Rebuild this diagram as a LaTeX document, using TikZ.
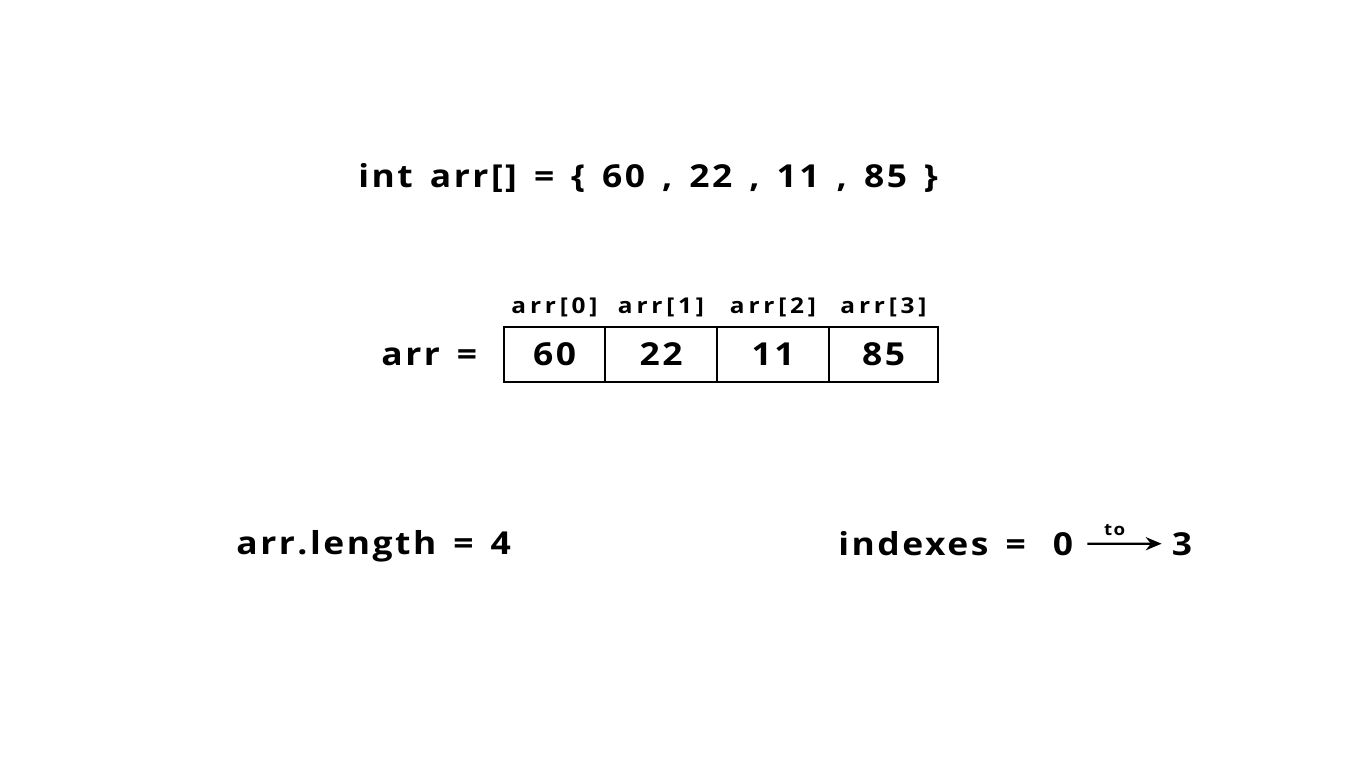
\documentclass[tikz,border=0pt]{standalone}
\usepackage{fontspec}
\setmainfont{Open Sans}[LetterSpace=8, WordSpace=1.45, FakeStretch=1.12]
\usetikzlibrary{positioning,arrows.meta}
\tikzstyle{big} = [inner sep=0pt, font=\fontsize{18}{21}\selectfont\bfseries]
\tikzstyle{small} = [inner sep=0pt, font=\fontsize{12.4}{15}\selectfont\bfseries\addfontfeatures{LetterSpace=17.5}]
\tikzstyle{tiny} = [inner sep=0pt, font=\fontsize{9.5}{11}\selectfont\bfseries]
\tikzstyle{cell} = [draw, line width=1.2pt, outer sep=0pt, minimum height=55*0.02cm, big]
\tikzstyle{line} = [draw, line width=1.2pt, -{Stealth[length=9pt,width=7.5pt]}]

\begin{document}
\begin{tikzpicture}[x=0.02cm, y=-0.02cm]
        \useasboundingbox (0,0) rectangle (1366,768);
        % declaration
        \node[big, anchor=base west] (decl) at (358,187) {int arr[] = \{ 60 , 22 , 11 , 85 \}};
        % the array cells
        \node[cell, minimum width=101*0.02cm] (c0) at (554.5,354.5) {60};
        \node[cell, minimum width=112*0.02cm, right=0pt of c0] (c1) {22};
        \node[cell, minimum width=112*0.02cm, right=0pt of c1] (c2) {11};
        \node[cell, minimum width=109*0.02cm, right=0pt of c2] (c3) {85};
        \node[big, anchor=base west] (arrlbl) at (381,365) {arr =};
        \node[small, above=10*0.02cm of c0] (idx0) {arr[0]};
        \node[small, above=10*0.02cm of c1] (idx1) {arr[1]};
        \node[small, above=10*0.02cm of c2] (idx2) {arr[2]};
        \node[small, above=10*0.02cm of c3] (idx3) {arr[3]};
        % bottom line
        \node[big, anchor=base west] (len) at (236,554) {arr.length = 4};
        \node[big, anchor=base west] (indexes) at (838,555) {indexes =};
        \node[big, anchor=base] (zero) at (1063,555) {0};
        \node[big, anchor=base] (three) at (1182,555) {3};
        \path[line, shorten <=14*0.02cm, shorten >=10*0.02cm] (zero) -- node[tiny, pos=0.42, above=7*0.02cm] (to) {to} (three);
\end{tikzpicture}
\end{document}
